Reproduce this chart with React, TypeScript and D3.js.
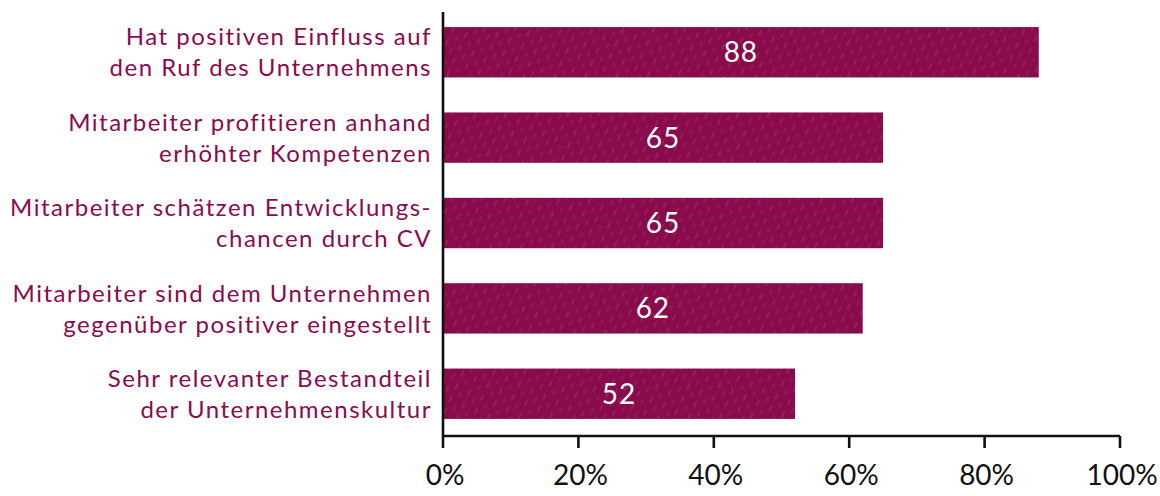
import React from "react";
import * as d3 from "d3";

const categories: string[][] = [
  ["Hat positiven Einfluss auf", "den Ruf des Unternehmens"],
  ["Mitarbeiter profitieren anhand", "erhöhter Kompetenzen"],
  ["Mitarbeiter schätzen Entwicklungs-", "chancen durch CV"],
  ["Mitarbeiter sind dem Unternehmen", "gegenüber positiver eingestellt"],
  ["Sehr relevanter Bestandteil", "der Unternehmenskultur"],
];
const values: number[] = [88, 65, 65, 62, 52];
const ticks: number[] = [0, 20, 40, 60, 80, 100];

const W = 1160;
const H = 496;
const FONT = "'Comic Sans MS', 'Humor Sans', Lato, 'Open Sans', sans-serif";
const BAR = "#8a0b4b";
const LABEL = "#8b0a50";

export default function App() {
  const x = d3.scaleLinear().domain([0, 100]).range([443, 1120]);
  const ids = categories.map((_, i) => String(i));
  const y = d3
    .scaleBand<string>()
    .domain(ids)
    .range([10, 436])
    .paddingInner(0.41)
    .paddingOuter(0.2);
  const bw = y.bandwidth();
  const axisY = 436;

  return (
    <svg
      width={W}
      height={H}
      style={{ position: "absolute", left: 0, top: 0, background: "#fff" }}
    >
      <defs>
        <pattern
          id="hatch"
          width="14"
          height="14"
          patternUnits="userSpaceOnUse"
          patternTransform="rotate(25)"
        >
          <line x1="3" y1="0" x2="3" y2="6" stroke="#fff" strokeOpacity="0.18" strokeWidth="1" />
          <line x1="10" y1="7" x2="10" y2="12" stroke="#fff" strokeOpacity="0.12" strokeWidth="1" />
        </pattern>
      </defs>
      {values.map((v, i) => {
        const yy = y(ids[i])!;
        return (
          <g key={i}>
            <rect x={x(0)} y={yy} width={x(v) - x(0)} height={bw} fill={BAR} />
            <rect x={x(0)} y={yy} width={x(v) - x(0)} height={bw} fill="url(#hatch)" />
            <text
              x={(x(0) + x(v)) / 2}
              y={yy + bw / 2}
              dy="0.36em"
              textAnchor="middle"
              fill="#fff"
              fontFamily={FONT}
              fontSize={28}
              letterSpacing={1}
            >
              {v}
            </text>
            {categories[i].map((line, j) => (
              <text
                key={j}
                x={432}
                y={yy + bw / 2 + (j === 0 ? -15.5 : 15.5)}
                dy="0.36em"
                textAnchor="end"
                fill={LABEL}
                fontFamily={FONT}
                fontSize={24}
                letterSpacing={1.5}
              >
                {line}
              </text>
            ))}
          </g>
        );
      })}
      {/* axes */}
      <line x1={x(0)} y1={12} x2={x(0)} y2={axisY} stroke="#111" strokeWidth={2.6} />
      <line x1={x(0)} y1={axisY} x2={x(100)} y2={axisY} stroke="#111" strokeWidth={2.6} />
      {ticks.map((t) => (
        <g key={t}>
          <line x1={x(t)} y1={axisY} x2={x(t)} y2={axisY + 12} stroke="#111" strokeWidth={2.6} />
          <text
            x={x(t) + 2}
            y={475}
            dy="0.36em"
            textAnchor="middle"
            fill="#111"
            fontFamily={FONT}
            fontSize={28}
          >
            {t}%
          </text>
        </g>
      ))}
    </svg>
  );
}
